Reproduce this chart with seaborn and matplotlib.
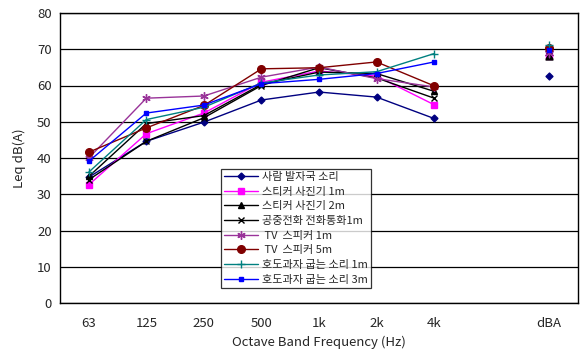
import matplotlib
matplotlib.use("Agg")
import matplotlib.pyplot as plt
import seaborn as sns
import numpy as np

categories = ["63", "125", "250", "500", "1k", "2k", "4k", "", "dBA"]
band_labels = ["63", "125", "250", "500", "1k", "2k", "4k"]

series_names = ["사람 발자국 소리", "스티커 사진기 1m", "스티커 사진기 2m", "공중전화 전화통화1m",
                " TV  스피커 1m", " TV  스피커 5m", "호도과자 굽는 소리 1m", "호도과자 굽는 소리 3m"]

footsteps = [34.7, 44.6, 49.9, 56.0, 58.2, 56.8, 50.9]
sticker_1m = [32.6, 46.7, 52.4, 60.9, 64.0, 62.6, 54.7]
sticker_2m = [34.9, 49.5, 51.7, 60.3, 63.7, 63.3, 58.4]
phone_1m = [34.0, 44.6, 51.1, 60.0, 64.9, 62.1, 56.5]
tv_1m = [40.0, 56.5, 57.1, 62.3, 65.1, 61.9, 59.6]
tv_5m = [41.6, 48.3, 54.5, 64.6, 64.9, 66.5, 59.9]
walnut_1m = [36.1, 50.6, 54.0, 60.7, 62.9, 63.8, 68.8]
walnut_3m = [39.1, 52.4, 54.6, 60.5, 61.7, 63.3, 66.5]

dba = [62.6, 68.1, 68.1, 68.3, 69.0, 70.4, 71.3, 69.8]

all_series = [footsteps, sticker_1m, sticker_2m, phone_1m, tv_1m, tv_5m, walnut_1m, walnut_3m]

colors = ["#000080", "#FF00FF", "#000000", "#000000", "#993399", "#800000", "#008080", "#0000FF"]
markers = ["D", "s", "^", "x", (6, 2, 0), "o", "+", "s"]
msizes = [3.5, 5, 5, 5, 6, 5.5, 6, 3]

sns.set_style("white")
plt.rcParams["font.family"] = ["Noto Sans CJK KR", "DejaVu Sans"]

fig = plt.figure(figsize=(5.84, 3.52), dpi=100)
ax = fig.add_axes([60 / 584, 1 - 303 / 352, 518 / 584, 290 / 352])

xs = np.arange(len(band_labels))
dba_x = categories.index("dBA")
for name, vals, c, m, ms, dv in zip(series_names, all_series, colors, markers, msizes, dba):
    sns.lineplot(x=xs, y=vals, ax=ax, color=c, marker=m, markersize=ms, linewidth=1,
                 markeredgecolor=c, markeredgewidth=1.0, label=name)
    sns.scatterplot(x=[dba_x], y=[dv], ax=ax, color=c, marker=m, s=ms ** 2,
                    edgecolor=c, linewidth=1.0, legend=False)

ax.set_xlim(-0.5, len(categories) - 0.5)
ax.set_ylim(0, 80)
ax.set_yticks(np.arange(0, 81, 10))
ax.yaxis.grid(True, color="black", linewidth=0.9)
ax.set_axisbelow(True)

ax.set_xticks(np.arange(0.5, len(categories) - 0.5, 1.0))
ax.set_xticklabels([])
ax.set_xticks(np.arange(len(categories)), minor=True)
ax.set_xticklabels(categories, minor=True)
ax.tick_params(axis="x", which="major", direction="in", length=5, color="black", width=0.8)
ax.tick_params(axis="x", which="minor", length=0, pad=10, labelsize=9.5)
ax.tick_params(axis="y", length=0, pad=6, labelsize=9.5)

for s in ax.spines.values():
    s.set_color("black")
    s.set_linewidth(1.0)

ax.set_ylabel("Leq dB(A)", fontsize=9.5, labelpad=8)
ax.set_xlabel("Octave Band Frequency (Hz)", fontsize=9.5, labelpad=4)

leg = ax.legend(loc="lower left", bbox_to_anchor=(0.311, 0.052), fontsize=8, frameon=True,
                fancybox=False, edgecolor="black", handlelength=3.0, labelspacing=0.42,
                borderpad=0.3, handletextpad=0.4, borderaxespad=0)
leg.get_frame().set_linewidth(0.9)

fig.savefig("out.png", dpi=100, facecolor="white")
